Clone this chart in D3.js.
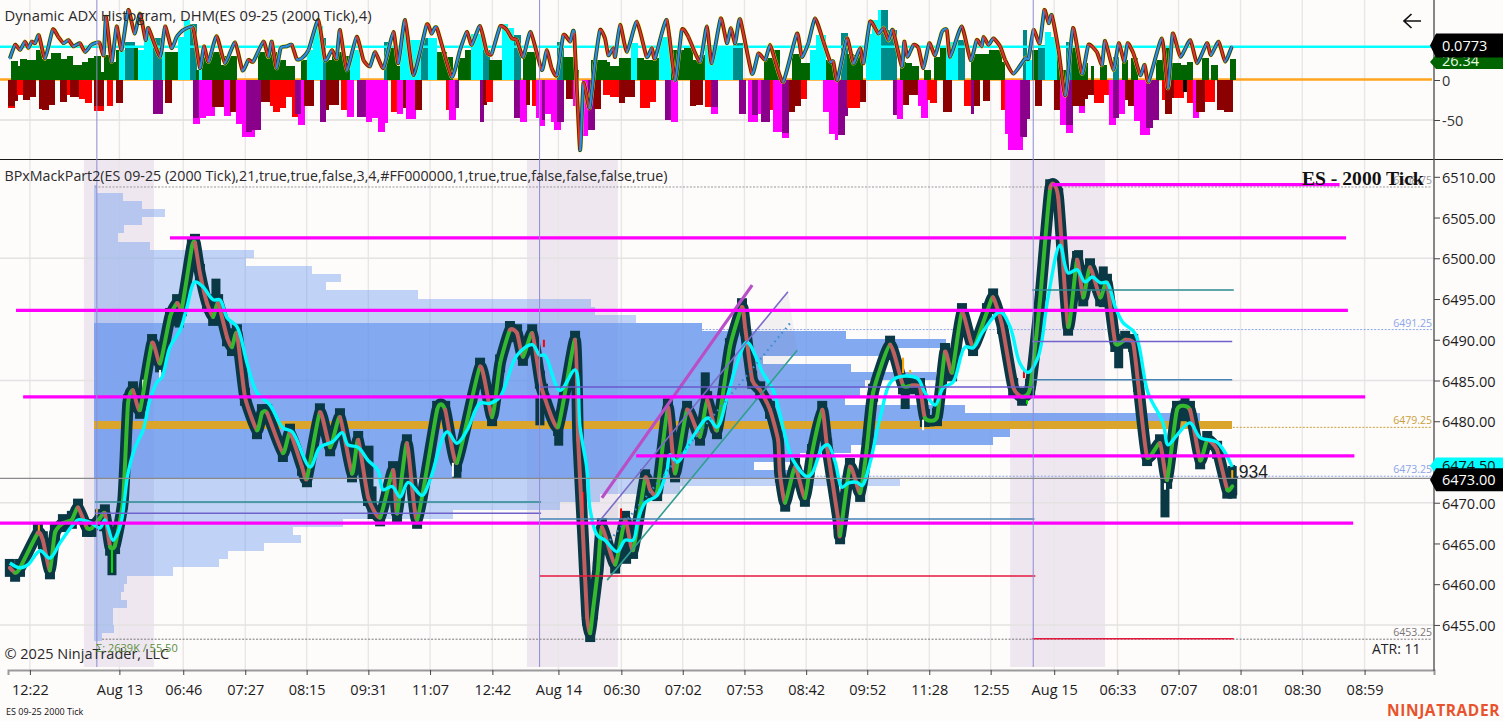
<!DOCTYPE html>
<html><head><meta charset="utf-8">
<script src="https://cdnjs.cloudflare.com/ajax/libs/d3/7.8.5/d3.min.js"></script>
<style>
html,body{margin:0;padding:0;background:#fefbfb;overflow:hidden}
svg{display:block}
text{font-family:"Open Sans","Noto Sans",sans-serif;fill:#1c1c1c}
</style></head><body><svg id="c" width="1503" height="721"></svg>
<script>
const tickBars=[7.1,36.1,56.8,76.9,96.8,116.8,136.8,157,178.4,198.8,218.7,238.7,258.7,278.5,298.6,318.5,339.1,359.6,379.4,399.5,419.5,439.7];
const tickLabels=["12:22","Aug 13","06:46","07:27","08:15","09:31","11:07","12:42","Aug 14","06:30","07:02","07:53","08:42","09:52","11:28","12:55","Aug 15","06:33","07:07","08:01","08:30","08:59"];
const priceTicks=[6510,6505,6500,6495,6490,6485,6480,6475,6470,6465,6460,6455];
const priceGrid=[6500,6485,6470,6455];
const sessions=[[24.6,47.3],[168.2,197.7],[324.8,355.6]];
const sessionStarts=[28.8,172.3,332.3];

// close line: [bar, price]
const closeSeries=[[.6,6462],[2.3,6461.4],[3.9,6462],[9.7,6466.3],[11.3,6465.4],[13.6,6461.7],[15.2,6466.3],[17.8,6467.5],[20.7,6467.9],[22.7,6469.4],[25.6,6466.9],[27.2,6466.9],[29.8,6468.1],[31.4,6468.7],[33.1,6464.6],[34.7,6464.8],[37.3,6470.3],[38.9,6482.2],[40.5,6483.8],[42.8,6481.4],[46.7,6489.6],[49.3,6487.1],[52.5,6492.8],[54.8,6494.5],[56.4,6494],[59.6,6501.4],[60.6,6501.9],[62.2,6498.2],[64.5,6494.5],[66.5,6492.8],[68.1,6494.5],[71,6490.3],[72.6,6489.1],[74.2,6490.8],[76.8,6483],[80.7,6478.9],[82.3,6481],[84,6481],[89.1,6476.1],[91.4,6478.6],[95.3,6474.4],[96.9,6473],[101.1,6481.1],[104.4,6476.8],[107.6,6480.5],[111.5,6473.6],[113.5,6477.7],[116.7,6470.7],[120.6,6468.2],[124.8,6474],[126.1,6468.7],[129.3,6477.3],[132.6,6467.9],[139.1,6481.4],[141.7,6481.4],[145.5,6474.9],[153,6486.7],[156.9,6480.5],[159.5,6487.1],[162.7,6491.2],[165,6490.8],[166.9,6487.9],[169.9,6490.8],[172.4,6485.1],[173.4,6483.5],[178.3,6479.3],[183.8,6490],[184.8,6477.7],[186.4,6465.8],[187.7,6456],[188.7,6454],[189.6,6456.8],[191.2,6461.7],[192.5,6467],[196.8,6462.4],[200,6467.9],[202.6,6464.2],[206.5,6473],[208.1,6471.6],[210.4,6471.3],[213.9,6481.7],[216.2,6473.6],[220.1,6481.4],[224.3,6478.1],[226.6,6482.6],[229.8,6478.9],[234,6489.1],[237.9,6494],[238.9,6491.6],[241.2,6485.1],[243.8,6483.8],[247,6481.4],[249.6,6477.7],[250.2,6473.6],[251.9,6470],[255.1,6474.4],[258.3,6470.6],[260.6,6476.1],[263.9,6481.4],[265.5,6476.8],[269.1,6467.9],[269.7,6466],[272.9,6474.4],[276.2,6471.2],[278.4,6476.8],[280.4,6483.5],[285.9,6489.4],[290.1,6484.4],[293,6484.4],[295.6,6484.2],[297.2,6480.4],[301.1,6480.5],[303.7,6488.5],[306,6486],[309.2,6493.4],[312.8,6489.1],[317.3,6493.4],[319.3,6495.2],[322.2,6491.8],[325.8,6484.2],[328.7,6483],[331.3,6484.1],[334.5,6494.9],[337.8,6508.6],[340.4,6507.5],[343.6,6491.6],[346.5,6499.8],[348.5,6495.2],[350.7,6498.9],[354,6495.2],[356.2,6497],[358.9,6489.6],[362.1,6490],[364.7,6489.6],[366.3,6484.7],[369.2,6475.6],[373.4,6477.3],[375.7,6472.8],[378.9,6481.4],[383.1,6481.4],[386.4,6475.2],[388.7,6477.7],[391.9,6476.5],[395.2,6471.6],[396.8,6472]];
// moving average: [bar, price]
const avgSeries=[[.6,6462.6],[3.9,6462],[6.5,6462.4],[10.4,6464.1],[13.6,6463.2],[16.9,6465.1],[21.1,6467.3],[22.7,6467.9],[26.6,6467.6],[29.8,6466.9],[31.4,6467.9],[34,6465.4],[35.7,6466.4],[37,6468.2],[38.9,6473.6],[41.2,6476.8],[43.8,6478.9],[46,6482.6],[48.3,6484.8],[49.9,6485.4],[52.5,6489.1],[55.8,6491.2],[58,6494],[60.6,6497.1],[63.2,6496.5],[66.5,6494.9],[68.7,6494.9],[71,6492.7],[74.2,6491.6],[77.5,6487.1],[80.7,6483.5],[84.9,6482],[89.1,6479.2],[92.1,6478.7],[97.9,6474.4],[101.1,6476.8],[105.3,6477.5],[108.3,6478.6],[110.2,6477.1],[113.5,6476.8],[116.7,6475.2],[119.9,6474],[121.6,6471.6],[124.5,6472],[127.1,6470.7],[129.7,6472.5],[134.2,6470.9],[136.8,6472.8],[142.3,6478.7],[145.5,6477.3],[148.8,6478.9],[153,6482.2],[156.2,6482.2],[159.5,6483],[165,6488.1],[169.9,6489.4],[172.4,6488.1],[174,6488.1],[178.9,6483.8],[183.8,6486.3],[185.4,6479.3],[187.7,6474],[188.7,6469.1],[191,6466],[193.5,6465.4],[197.4,6464],[200,6465.4],[202.6,6465.4],[204.2,6467.9],[206.5,6470],[210.4,6470.9],[213.6,6474],[214.6,6475.9],[216.9,6475],[222,6478.1],[226.9,6480.4],[229.8,6479.3],[233.1,6483],[236.3,6487.1],[239.5,6489.7],[244.7,6485.9],[248,6483.8],[252.5,6477.3],[254.5,6475.2],[259,6473.2],[260.6,6473.6],[263.9,6476.7],[265.8,6477.1],[268.1,6475],[270.3,6471.9],[272.3,6472.4],[275.2,6472.5],[276.8,6472.1],[279.4,6474.9],[282.7,6480.5],[286.9,6485.1],[294.6,6485.3],[297.2,6483.5],[300.5,6482],[303.1,6484.1],[306.3,6484.8],[310.2,6489.1],[312.8,6489],[316,6491],[321.6,6493.4],[324.8,6491.6],[328,6487.1],[330.6,6486],[333.9,6487.9],[337.1,6495.2],[341,6501.6],[343.6,6498.2],[346.5,6498.6],[349.1,6497.1],[351.4,6497.7],[354,6497],[356.2,6497],[358.9,6494],[361.4,6492.1],[365.3,6490.8],[369.5,6483.5],[374.4,6479.8],[376,6477.1],[378.9,6478.3],[383.1,6479.8],[386.4,6478],[391.9,6477.4],[396.8,6474.4]];
// bars poking out of the body band: [bar, high, low]
const wicks=[[33.7,6466.6,6461.1],[31,6469,6466.5],[67.4,6497.5,6493],[55.5,6494,6491.5],[172.4,6483,6479.5],[178.5,6480.5,6477],[375,6473,6468.2],[290.8,6485,6481.5],[226,6486,6482.5],[216,6476,6473],[200.5,6467,6462.5],[347,6501,6497.5],[355,6499,6494],[360,6489.5,6486.5],[381.5,6483,6480],[118,6472,6468],[117,6477,6471],[145.5,6477.5,6473],[396.8,6474.5,6470.5]];
// small coloured ticks inside the body: [bar, high, low, colour]
const accents=[[290.1,6487.8,6485.9,"#ffa500"],[292.4,6486.3,6485.9,"#ffa500"],[329.3,6486.3,6485.3,"#ff0000"],[330.3,6482.6,6482.1,"#00e000"],[173.7,6490,6489.1,"#ff0000"],[10,6467.3,6466.4,"#ffa500"],[28.8,6469.3,6468.5,"#ffa500"],[33.7,6464.2,6461.4,"#00e000"],[186.4,6471.3,6468.7,"#ff0000"],[198.7,6469.3,6467.9,"#ff0000"],[396.8,6474,6473,"#ffa500"],[49.3,6486.3,6485.1,"#ffffff"],[43.8,6485.1,6483,"#ffffff"],[144.2,6474.9,6473.2,"#ffffff"],[296.6,6480.2,6478.9,"#ffffff"],[375,6472.4,6471.6,"#ffffff"]];
const pinkLevels=[[338.5,431.6,6509.05],[52.5,433.7,6502.5],[2.6,434.3,6493.6],[4.9,439.9,6483],[203.6,436.4,6475.75],[-2.6,436,6467.5]];
const levelLines=[[28.2,172.8,6470.1,"#2a8a90"],[28.2,172.8,6468.7,"#7062cc"],[172.2,332.7,6468,"#4682b4"],[172.2,332.7,6484.2,"#6a5acd"],[172.2,333,6461,"#e5173c"],[332,397.3,6496.1,"#2a8a90"],[332,396.8,6489.8,"#7062cc"],[332,396.8,6485.1,"#4682b4"],[332,397.3,6453.3,"#e5173c"]];
const trendLines=[[192.5,6470.6,241.2,6496.7,"#b84fc8",3.2,null],[191.2,6467.5,252.8,6495.9,"#7a6cc8",1.6,null],[195.1,6465.4,254.1,6492.3,"#3a8fd0",2.2,"1.6 4"],[194.2,6460.5,255.8,6488.7,"#2f9e8f",1.6,null]];
const labelledLevels=[[6508.75,"6508.75","#999",28.2],[6491.25,"6491.25","#8aa6ea",225],[6479.25,"6479.25","#c9a03a",397],[6473.25,"6473.25","#8aa6ea",261],[6453.25,"6453.25","#777",30.5]];
// volume profile, one row per price, top to bottom
const profileTop=6508.25;
const profilePoc=6479.25, profileVah=6491.25, profileVal=6473.25;
const profileVolume=[3,29,48,71,48,30,24,56,160,152,218,247,232,324,497,501,542,608,752,852,791,669,757,842,771,766,751,871,1106,1138,916,899,757,706,660,719,806,586,506,466,359,249,199,207,170,134,125,79,33,30,27,33,19,19,20,8];
// ADX histogram: [startBar, endBar, value, colour]
const histColors=["#006400","#00ffff","#008b8b","#ff0000","#8b0000","#ff00ff","#8b008b","#000000"];
const histPositive=[[1,3,24,0],[3,4,18,0],[4,6,26,0],[6,9,25,0],[9,11,38,0],[11,12,26,0],[12,14,26,0],[14,17,34,0],[17,19,26,0],[19,21,30,0],[21,24,19,0],[24,26,22,0],[26,28,27,0],[28,30,30,0],[30,31,10,0],[31,33,31,0],[33,35,23,0],[35,36,37,0],[36,38,37,1],[38,41,48,2],[41,42,40,0],[42,44,38,1],[44,47,58,1],[47,50,52,2],[50,51,35,1],[51,55,35,0],[55,57,54,1],[57,59,75,1],[59,61,70,2],[61,62,12,0],[62,63,19,1],[63,65,30,0],[65,69,35,0],[69,70,19,0],[70,74,30,0],[81,87,35,0],[87,90,25,0],[90,93,18,0],[95,97,25,0],[97,99,37,1],[99,102,67,1],[102,103,52,2],[103,105,25,0],[105,109,35,0],[109,111,30,0],[111,114,38,1],[122,123,48,2],[123,126,40,0],[126,127,17,0],[127,130,58,1],[130,134,50,1],[134,136,52,2],[136,139,52,1],[139,142,35,0],[142,144,29,0],[146,148,27,0],[148,150,38,0],[150,154,58,1],[154,156,38,2],[156,158,25,0],[158,160,25,0],[160,162,70,1],[162,164,65,1],[164,166,56,2],[167,171,35,0],[178,180,48,2],[180,184,29,0],[184,185,12,0],[189,194,25,0],[194,195,23,0],[195,198,17,0],[198,202,27,0],[202,204,46,1],[204,206,27,0],[206,209,25,0],[209,211,27,0],[211,215,54,1],[215,219,37,0],[219,222,40,0],[222,224,25,0],[224,226,31,0],[226,230,44,1],[230,235,40,1],[235,238,46,2],[245,248,27,0],[248,250,37,0],[254,257,33,0],[257,260,21,0],[260,262,37,1],[262,265,56,1],[265,268,25,0],[270,272,59,2],[272,274,33,0],[274,277,31,0],[278,280,58,1],[280,282,75,1],[282,283,87,1],[283,285,87,2],[285,288,62,2],[289,291,23,0],[291,293,21,0],[293,295,17,0],[297,299,12,0],[300,302,29,0],[302,304,40,0],[304,308,48,1],[308,310,50,2],[312,314,33,0],[314,318,33,0],[318,322,37,0],[322,323,23,0],[329,330,62,2],[330,332,25,1],[332,334,38,0],[334,336,44,2],[336,338,60,1],[338,340,54,1],[340,341,29,0],[341,343,12,0],[343,345,48,2],[345,347,40,0],[347,349,17,0],[349,350,21,0],[351,352,17,0],[354,356,19,0],[358,360,29,2],[361,363,25,0],[364,366,27,0],[372,374,25,0],[374,377,40,0],[377,380,21,0],[380,382,19,0],[382,384,23,0],[387,389,27,0],[390,392,19,0],[396,398,26.34,0]];
const histNegative=[[0,2,-35,3],[0,2,-33,4],[2,3,-26,4],[3,5,-19,3],[5,7,-25,4],[7,9,-21,4],[10,11,-36,4],[11,13,-37,4],[13,15,-31,4],[17,19,-28,4],[19,20,-19,3],[20,23,-21,4],[23,25,-24,3],[25,27,-29,3],[28,31,-39,3],[28,31,-32,4],[32,34,-33,3],[35,37,-29,4],[47,50,-43,6],[51,53,-29,4],[60,62,-55,5],[60,62,-48,6],[62,64,-48,5],[64,67,-45,5],[66,70,-34,4],[70,72,-45,5],[72,74,-40,4],[74,76,-55,5],[76,80,-71,5],[77,79,-65,6],[79,80,-63,6],[80,82,-62,6],[82,85,-27,4],[85,86,-33,3],[86,88,-40,3],[88,90,-35,3],[90,92,-21,3],[92,95,-46,3],[94,96,-56,5],[93,95,-42,6],[96,99,-33,4],[101,103,-53,6],[103,104,-38,4],[104,107,-31,4],[108,110,-37,3],[110,112,-46,5],[113,116,-46,6],[116,118,-52,5],[118,120,-48,5],[120,122,-65,5],[122,123,-54,5],[124,126,-40,3],[126,128,-43,5],[128,129,-35,4],[129,132,-49,5],[132,134,-38,4],[142,143,-38,3],[143,145,-50,5],[145,146,-35,6],[153,154,-53,6],[154,155,-31,4],[155,157,-27,3],[164,166,-48,6],[166,168,-52,5],[168,169,-31,4],[170,171,-33,3],[171,173,-48,5],[172,174,-58,5],[173,174,-50,6],[174,176,-42,5],[176,177,-52,5],[177,179,-63,5],[178,180,-52,6],[181,183,-24,4],[183,185,-33,5],[186,188,-70,5],[188,190,-62,6],[190,192,-36,4],[193,195,-19,3],[195,198,-21,3],[198,200,-29,4],[200,203,-21,4],[205,208,-35,3],[208,210,-27,3],[213,215,-50,6],[215,217,-53,5],[221,223,-33,4],[223,225,-31,4],[226,228,-34,3],[228,230,-42,5],[228,230,-34,6],[237,239,-43,6],[240,243,-53,5],[241,243,-44,6],[243,244,-42,5],[244,247,-53,6],[247,248,-37,3],[248,251,-65,5],[251,253,-73,5],[251,253,-66,6],[253,255,-40,4],[255,257,-33,4],[257,259,-24,3],[264,266,-40,5],[266,268,-67,5],[268,269,-75,5],[269,271,-69,6],[271,272,-45,6],[272,276,-35,3],[276,278,-27,4],[287,288,-44,6],[288,290,-49,5],[290,292,-31,4],[292,295,-19,4],[295,296,-33,5],[296,298,-48,5],[298,299,-25,3],[299,301,-29,3],[303,306,-40,4],[310,312,-33,3],[312,313,-42,6],[313,315,-33,4],[316,318,-26,4],[322,323,-38,3],[323,324,-67,5],[324,327,-87,5],[327,329,-88,5],[328,330,-71,6],[330,331,-49,6],[333,335,-33,4],[339,341,-37,4],[341,343,-56,5],[343,345,-66,5],[343,345,-56,6],[345,347,-33,4],[347,349,-41,5],[347,349,-33,4],[349,350,-24,4],[350,352,-19,4],[352,355,-29,3],[355,357,-19,3],[357,359,-56,5],[358,360,-47,6],[360,362,-43,5],[362,363,-25,4],[363,365,-32,4],[365,367,-51,5],[367,370,-69,5],[369,371,-60,6],[371,373,-50,6],[374,375,-25,3],[375,377,-42,4],[377,378,-22,4],[378,381,-22,3],[381,382,-15,7],[382,384,-29,3],[384,386,-48,5],[385,388,-40,4],[388,391,-27,3],[392,394,-37,4],[394,397,-40,4]];
// ADX oscillator line: [bar, value]
const adxLine=[[.6,27],[2.3,44],[3.9,37.5],[5.5,48],[6.6,40],[7.7,48],[8.8,46],[10,56],[12,27],[14.5,63],[16.3,54],[18,46],[19.6,50],[21.2,42],[23.3,46],[25,35],[27,44],[29.6,47],[31,31],[31.8,79],[33.6,23],[35.2,67],[36.8,37.5],[39,87.5],[41,58],[42.8,83],[44.6,50],[45.5,65],[49.3,29],[50.9,67],[53,40],[54.7,54],[56.8,62.5],[60,65],[62.2,15],[63.5,42],[65,23],[67.6,55],[70.3,21],[73.6,47],[76,12],[77.9,25],[79.5,23],[82.8,48],[84.4,29],[85.5,48],[87,15],[88.4,40],[90.3,42],[92,44],[93.6,26],[95.2,27],[97.4,37.5],[100.6,75],[102.8,25],[105,37.5],[106.5,27],[107.6,62.5],[109.8,12.5],[113,54],[115.2,25],[117.3,17],[119,35],[121.7,15],[124.9,60],[126.5,21],[128.7,75],[131.4,6],[135.7,69],[137.3,58],[139,65],[143.8,4],[146.5,37.5],[148.7,60],[150.3,44],[153,67.5],[155.2,35],[156.8,33],[159.5,67],[161.7,62.5],[163.3,52],[164.9,50],[167,29],[169.4,60],[173,12.5],[174.6,37.5],[176.2,15],[177.9,6],[180,56],[182.2,48],[183.5,58],[185.4,-87.5],[186.5,-4],[188.5,-35],[190.3,23],[191.9,62.5],[193.5,52],[194.6,31],[196.2,40],[196.8,29],[198.4,69],[200.6,35],[203.8,73],[207,29],[208.7,40],[209.7,27],[213.5,75],[216.2,0],[218.4,62.5],[220.5,54],[224.3,23],[226.5,67],[228.1,21],[231,77],[233,46],[234.3,65],[235.7,46],[237.3,76],[241.1,8],[243.2,33],[245.4,25],[247,44],[248.6,25],[251.3,-2],[255.7,58],[257.3,29],[259.4,46],[261.6,77],[264.3,48],[266.5,23],[267.5,23],[268.8,0],[271.9,52],[274,21],[276.2,40],[277.3,21],[279.4,73],[282.1,58],[283.8,65],[285.4,50],[286.8,62.5],[289.7,17],[290.5,48],[291.5,29],[293.5,44],[295.1,40],[296.7,15],[298.6,46],[300.5,31],[302.7,60],[304.3,62.5],[305.4,29],[309.1,67],[312,25],[314,50],[315.6,42],[316.2,54],[317.8,44],[319.4,52],[321.6,42],[323.2,25],[325.9,8],[329.7,27],[330.8,27],[332.4,62.5],[334.4,46],[335.9,87.5],[337.3,71],[338.3,81],[340.5,37.5],[342.7,-19],[345.2,65],[348.1,8],[350.2,44],[352.9,35],[354.6,19],[355.6,49],[358.3,12.5],[360,46],[361.8,23],[362.9,46],[364.8,33],[367,6],[368.4,19],[369.7,-2],[374,52],[376,-10],[377.5,58],[380,29],[383.2,50],[385.4,21],[388.6,46],[389.9,31],[392.4,48],[394.5,23],[396.7,42]];
const adxCyanLevel=41.6, adxZero=0, adxTicks=[0,-50], adxGrid=-50;
const currentPrice=6473, avgPrice=6474.5;

const svg=d3.select("#c");
const x=d3.scaleLinear().domain([0,462.2]).range([8,1434]);
const y=d3.scaleLinear().domain([6510,6455]).range([176.8,624.94]);
const ya=d3.scaleLinear().domain([0,-50]).range([80,120]);
const xv=d3.scaleLinear().domain([0,1138]).range([94,1232]);
const AXR=1434, AXB=670;
// one path per knot-to-knot stretch, lightly rounded so colour can change per stretch
function smoothSegments(series,sy,k){
 const P=series.map(d=>[x(d[0]),sy(d[1])]);
 return d3.pairs(series).map((pair,i)=>{
  const p0=P[Math.max(i-1,0)],p1=P[i],p2=P[i+1],p3=P[Math.min(i+2,P.length-1)];
  const c1=[p1[0]+(p2[0]-p0[0])*k,p1[1]+(p2[1]-p0[1])*k],c2=[p2[0]-(p3[0]-p1[0])*k,p2[1]-(p3[1]-p1[1])*k];
  return {up:pair[1][1]>=pair[0][1],d:`M${p1}C${c1} ${c2} ${p2}`};
 });
}

// backdrop
svg.append("rect").attr("width",1503).attr("height",721).attr("fill","#fefbfb");
svg.append("g").selectAll("rect").data(sessions).join("rect")
 .attr("x",d=>x(d[0])).attr("width",d=>x(d[1])-x(d[0])).attr("y",160).attr("height",507).attr("fill","#efe7ef");
// grid
svg.append("g").selectAll("line").data(tickBars).join("line")
 .attr("x1",d=>x(d)).attr("x2",d=>x(d)).attr("y1",0).attr("y2",AXB).attr("stroke","#e8e6e6").attr("stroke-width",1.4);
svg.append("g").selectAll("line").data(priceGrid).join("line")
 .attr("x1",0).attr("x2",AXR).attr("y1",d=>y(d)).attr("y2",d=>y(d)).attr("stroke","#e4e2e2").attr("stroke-width",1.4);
svg.append("line").attr("x1",0).attr("x2",AXR).attr("y1",ya(adxGrid)).attr("y2",ya(adxGrid)).attr("stroke","#e0dede").attr("stroke-width",1.6);

// ADX panel
svg.append("line").attr("x1",0).attr("x2",AXR-2).attr("y1",ya(adxZero)-.5).attr("y2",ya(adxZero)-.5).attr("stroke","#ffa51f").attr("stroke-width",2.6);
const bars=(s,d)=>s.append("g").attr("shape-rendering","crispEdges").selectAll("rect").data(d).join("rect")
 .attr("x",e=>x(e[0])).attr("width",e=>x(e[1])-x(e[0])+.4)
 .attr("y",e=>Math.min(ya(e[2]),ya(0))).attr("height",e=>Math.abs(ya(e[2])-ya(0)))
 .attr("fill",e=>histColors[e[3]]);
bars(svg,histPositive); bars(svg,histNegative);
svg.append("line").attr("x1",0).attr("x2",AXR).attr("y1",ya(adxCyanLevel)).attr("y2",ya(adxCyanLevel)).attr("stroke","#00ffff").attr("stroke-width",2.6);
const adxSegs=smoothSegments(adxLine,ya,.09);
const adxG=svg.append("g").attr("fill","none");
adxG.append("path").attr("d",adxSegs.map(s=>s.d).join("")).attr("stroke","#f7ee12").attr("stroke-width",4.4);
adxG.selectAll("path.o").data(adxSegs).join("path").attr("class","o").attr("d",d=>d.d)
 .attr("stroke",d=>d.up?"#123a5c":"#5c1616").attr("stroke-width",3.7);
adxG.selectAll("path.i").data(adxSegs).join("path").attr("class","i").attr("d",d=>d.d)
 .attr("stroke",d=>d.up?"#2f8fd8":"#d9362b").attr("stroke-width",2.1).attr("stroke-linecap","round");

// separators
svg.append("line").attr("x1",0).attr("x2",1503).attr("y1",159.5).attr("y2",159.5).attr("stroke","#1a1a1a").attr("stroke-width",1);

// volume profile
const profile=profileVolume.map((v,i)=>({p:profileTop-i,v}));
svg.append("g").attr("shape-rendering","crispEdges").selectAll("rect").data(profile).join("rect")
 .attr("x",xv(0)).attr("width",d=>xv(d.v)-xv(0))
 .attr("y",d=>y(d.p+.8)).attr("height",d=>y(d.p-.2)-y(d.p+.8))
 .attr("fill",d=>d.p===profilePoc?"#daa52a":(d.p<=profileVah&&d.p>=profileVal?"rgba(100,149,237,.8)":"rgba(100,149,237,.4)"));

// dashed labelled levels
svg.append("g").selectAll("line").data(labelledLevels).join("line")
 .attr("x1",d=>x(d[3])).attr("x2",AXR-2).attr("y1",d=>y(d[0])).attr("y2",d=>y(d[0]))
 .attr("stroke",d=>d[2]).attr("stroke-width",1).attr("stroke-dasharray","2 1.5");
svg.append("g").selectAll("text").data(labelledLevels).join("text")
 .attr("x",AXR-2).attr("y",d=>y(d[0])-3).attr("text-anchor","end").attr("font-size",10.5)
 .style("fill",d=>d[2]).text(d=>d[1]);

// channel shading
svg.append("path").attr("d",d3.line()([[x(trendLines[1][2]),y(trendLines[1][3])],[x(trendLines[3][2]),y(trendLines[3][3])],[x(trendLines[3][0]),y(trendLines[3][1])],[x(trendLines[1][0]),y(trendLines[1][1])]])+"Z").attr("fill","#8a8aa0").attr("fill-opacity",.09);

// text under marks
svg.append("text").attr("x",1229).attr("y",478).attr("font-size",17.5).style("font-family","'Liberation Sans',sans-serif").text("1934");

// price body
const DARK="#0a3845";
const closeSegs=smoothSegments(closeSeries,y,.09);
svg.append("path").attr("d",closeSegs.map(s=>s.d).join("")).attr("fill","none").attr("stroke",DARK).attr("stroke-width",11.5);
svg.append("g").selectAll("rect").data(closeSeries).join("rect")
 .attr("x",d=>x(d[0])-5).attr("width",10).attr("y",d=>y(d[1]+1.1)).attr("height",d=>y(d[1]-1.1)-y(d[1]+1.1)).attr("fill",DARK);
svg.append("g").selectAll("rect").data(wicks).join("rect")
 .attr("x",d=>x(d[0])-4.5).attr("width",9).attr("y",d=>y(d[1])).attr("height",d=>y(d[2])-y(d[1])).attr("fill",DARK);
svg.append("g").selectAll("rect").data(accents).join("rect")
 .attr("x",d=>x(d[0])-1).attr("width",2).attr("y",d=>y(d[1])).attr("height",d=>y(d[2])-y(d[1])).attr("fill",d=>d[3]);
svg.append("g").attr("fill","none").selectAll("path").data(closeSegs).join("path").attr("d",d=>d.d)
 .attr("stroke",d=>d.up?"#34b92f":"#bf5f5f").attr("stroke-width",4).attr("stroke-linecap","round");
const lavg=d3.line().x(d=>x(d[0])).y(d=>y(d[1])).curve(d3.curveCatmullRom.alpha(.5));
svg.append("path").attr("d",lavg(avgSeries)).attr("fill","none").attr("stroke","#00f8ff").attr("stroke-width",3.4).attr("stroke-linejoin","round");

// trend channel
svg.append("g").selectAll("line").data(trendLines).join("line")
 .attr("x1",d=>x(d[0])).attr("y1",d=>y(d[1])).attr("x2",d=>x(d[2])).attr("y2",d=>y(d[3]))
 .attr("stroke",d=>d[4]).attr("stroke-width",d=>d[5]).attr("stroke-dasharray",d=>d[6]);

// levels
svg.append("g").selectAll("line").data(levelLines).join("line")
 .attr("x1",d=>x(d[0])).attr("x2",d=>x(d[1])).attr("y1",d=>y(d[2])).attr("y2",d=>y(d[2])).attr("stroke",d=>d[3]).attr("stroke-width",1.5);
svg.append("g").selectAll("line").data(pinkLevels).join("line")
 .attr("x1",d=>x(d[0])).attr("x2",d=>x(d[1])).attr("y1",d=>y(d[2])).attr("y2",d=>y(d[2])).attr("stroke","#ff00ff").attr("stroke-width",3.2);

// session-start verticals
svg.append("g").selectAll("line").data(sessionStarts).join("line")
 .attr("x1",d=>x(d)).attr("x2",d=>x(d)).attr("y1",0).attr("y2",667).attr("stroke","#8d8dd2").attr("stroke-width",1);
// current price line
svg.append("line").attr("x1",0).attr("x2",AXR).attr("y1",y(currentPrice)).attr("y2",y(currentPrice)).attr("stroke","#8a8a8a").attr("stroke-width",1.2);

// Axes
const xAxis=d3.axisBottom(x).tickValues(tickBars).tickFormat((d,i)=>tickLabels[i]).tickSize(5).tickPadding(10);
const gx=svg.append("g").attr("transform",`translate(0,${AXB})`).call(xAxis);
gx.select(".domain").attr("stroke","#9a9a9a").attr("stroke-width",2);
gx.selectAll(".tick line").attr("stroke","#444");
gx.selectAll("text").style("font-family","'Open Sans',sans-serif").attr("font-size",14.5).style("fill","#1c1c1c");
const ax=d3.axisRight(y).tickValues(priceTicks).tickFormat(d3.format(".2f")).tickSize(6).tickPadding(2);
const gy=svg.append("g").attr("transform",`translate(${AXR},1)`).call(ax);
gy.select(".domain").remove();
gy.selectAll(".tick line").attr("stroke","#444").attr("transform","translate(0,-1)");
gy.selectAll("text").attr("font-size",14.5).style("fill","#1c1c1c");
const aa=d3.axisRight(ya).tickValues(adxTicks).tickFormat(d=>String(d)).tickSize(6).tickPadding(2);
const ga=svg.append("g").attr("transform",`translate(${AXR},1)`).call(aa);
ga.select(".domain").remove();
ga.selectAll(".tick line").attr("stroke","#444").attr("transform","translate(0,-1)");
ga.selectAll("text").attr("font-size",14.5).style("fill","#333");
svg.append("line").attr("x1",AXR).attr("x2",AXR).attr("y1",0).attr("y2",AXB+1).attr("stroke","#555").attr("stroke-width",1.4);

// right tags
function tag(cy,h,fill,txt,col,dy){
 const l=1430,b=1436,r=1503,t=cy-h/2,u=cy+h/2;
 svg.append("path").attr("d",d3.line()([[b,t],[r,t],[r,u],[b,u],[l,cy]])+"Z").attr("fill",fill);
 svg.append("text").attr("x",1442).attr("y",cy+dy).attr("font-size",14.5).style("fill",col).text(txt);
}
tag(y(avgPrice),17,"#00ffff","6474.50","#111",5);
tag(y(currentPrice)+1.5,23,"#000","6473.00","#fff",5);
tag(62,14,"#006400","26.34","#e8ffe8",4);
tag(45.5,24,"#000","0.0773","#fff",5);

// texts
const T=(t,xx,yy,fs,col,extra)=>{const e=svg.append("text").attr("x",xx).attr("y",yy).attr("font-size",fs).style("fill",col).text(t);if(extra)extra(e);return e;};
T("Dynamic ADX Histogram, DHM(ES 09-25 (2000 Tick),4)",4.5,21,14.4,"#2a2a2a",e=>e.attr("textLength",367).attr("lengthAdjust","spacingAndGlyphs"));
T("BPxMackPart2(ES 09-25 (2000 Tick),21,true,true,false,3,4,#FF000000,1,true,true,false,false,false,true)",4.5,181,14.4,"#2a2a2a",e=>e.attr("textLength",663).attr("lengthAdjust","spacingAndGlyphs"));
T("ES - 2000 Tick",1302,185,19.6,"#111",e=>e.style("font-family","'Liberation Serif',serif").attr("font-weight","bold"));
T("© 2025 NinjaTrader, LLC",4.5,659,14.5,"#2a2a2a");
T("Σ: 2639K / 55.50",96,651.5,11,"#5a8f3c");
T("ATR: 11",1372,654,14,"#222");
T("ES 09-25 2000 Tick",6,714.5,9,"#111");
T("NINJATRADER",1387,716,15.5,"#e8532b",e=>e.attr("font-weight","bold").style("letter-spacing",".6px"));
svg.append("path").attr("d","M1421 21H1404M1411.5 14L1404 21L1411.5 28").attr("fill","none").attr("stroke","#111").attr("stroke-width",1.7);
</script></body></html>
